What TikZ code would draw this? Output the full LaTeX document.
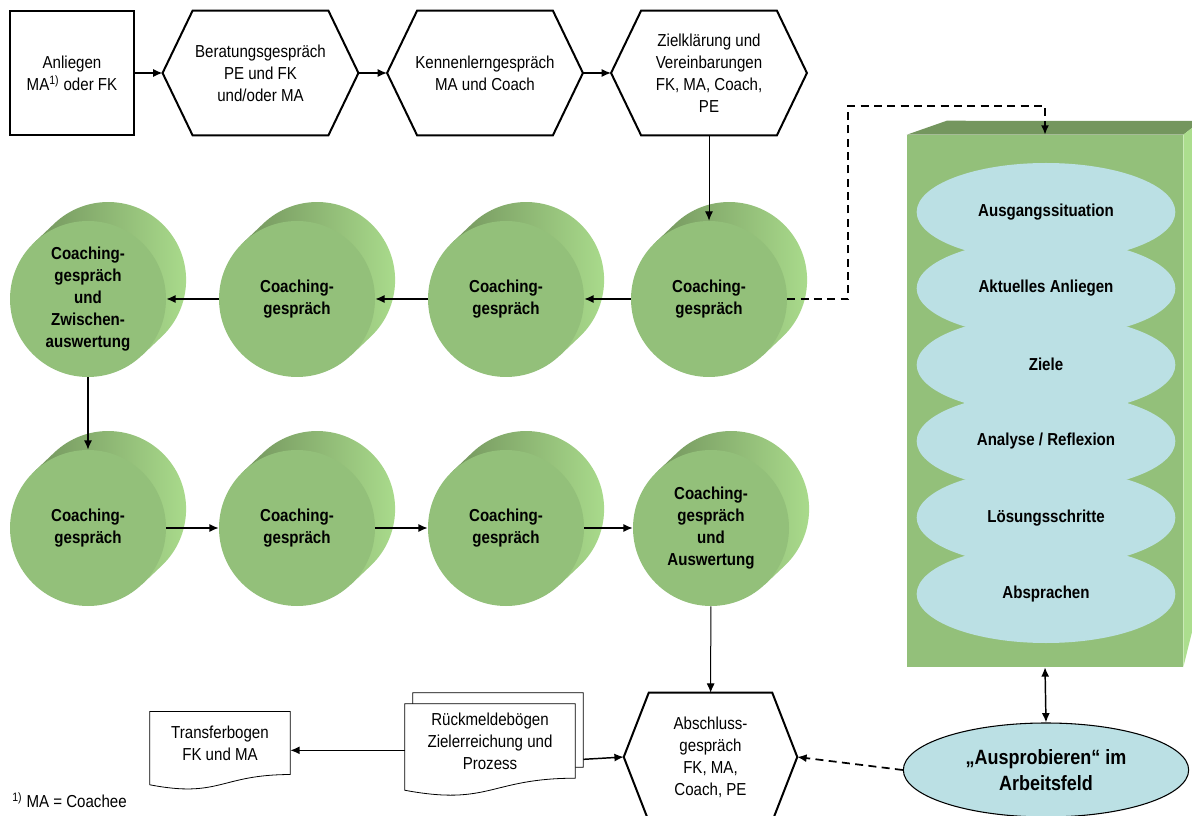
\documentclass[tikz,border=0pt]{standalone}
\usepackage{fontspec}
\setmainfont{Liberation Sans}[FakeStretch=0.87]
\usepackage{tikz}
\usetikzlibrary{arrows.meta,positioning,calc,shapes.geometric,backgrounds}
\definecolor{disk}{RGB}{147,192,122}
\definecolor{diskdark}{RGB}{116,150,94}
\definecolor{disklight}{RGB}{172,222,142}
\definecolor{oval}{RGB}{187,224,228}
\definecolor{ink}{RGB}{0,0,0}

% green coaching disk: shaded back, plain front with text
\newcommand{\coachdisk}[3]{%
  \coordinate (#1c) at (#2);
  \shade[left color=diskdark,right color=disklight] ($(#1c)+(53.8,56.6)$) -- ++(20,-19)
    arc[start angle=46.5,end angle=-133.5,radius=78] -- ++(-20,19) -- cycle;
  \node[disk] (#1) at (#1c) {#3};}
% sheet with wavy lower edge round a text node
\newcommand{\docoutline}[2]{%
  \draw[docline] (#1.north west) -- (#1.north east) -- (#1.south east)
    .. controls (#1.south) and ($(#1.south)+(0,#2)$) .. ($(#1.south west)+(0,{0.43*#2})$) -- cycle;}
% six-sided outline round a text node
\newcommand{\hexoutline}[2]{%
  \draw[hexline] ([xshift=#2]#1.north west) -- ([xshift=-#2]#1.north east) -- (#1.east)
    -- ([xshift=-#2]#1.south east) -- ([xshift=#2]#1.south west) -- (#1.west) -- cycle;}

\begin{document}
\begin{tikzpicture}[x=0.75pt,y=-0.75pt,>={Latex[length=7pt,width=6pt]},font=\fontsize{13}{16.5}\selectfont]
\tikzset{box/.style={draw=ink,line width=1.5pt,align=center,inner sep=2pt},
  hexa/.style={align=center,inner sep=0pt,minimum width=146.5pt,minimum height=93pt},
  hexline/.style={draw=ink,line width=1.5pt,line join=miter},
  disk/.style={circle,fill=disk,minimum size=117pt,inner sep=0pt,align=center,font=\fontsize{13}{16.5}\selectfont\bfseries},
  phase/.style={ellipse,fill=oval,minimum width=194pt,minimum height=73.5pt,inner sep=0pt,font=\fontsize{13}{16.5}\selectfont\bfseries},
  docnode/.style={align=center,inner sep=0pt},
  docline/.style={draw=ink,line width=0.6pt,fill=white},
  arr/.style={->,line width=1.1pt,draw=ink},
  thinarr/.style={arr,line width=0.75pt},
  dasharr/.style={arr,dash pattern=on 6pt off 4pt,line width=1.3pt}}
\useasboundingbox (0,0) rectangle (1192,816);

% top row
\node[box,minimum width=93pt,minimum height=93pt] (anl) at (72,73) {Anliegen\\MA\textsuperscript{1)} oder FK};
\node[hexa] (bera) at (260.5,73) {Beratungsgespräch\\PE und FK\\und/oder MA};
\node[hexa] (kenn) at (485,73) {Kennenlerngespräch\\MA und Coach};
\node[hexa] (ziel) at (709,73) {Zielklärung und\\Vereinbarungen\\FK, MA, Coach,\\PE};
\hexoutline{bera}{22.5pt}
\hexoutline{kenn}{22.5pt}
\hexoutline{ziel}{22.5pt}

% coaching sessions
\coachdisk{c1}{709,299}{Coaching-\\gespräch}
\coachdisk{c2}{506,299}{Coaching-\\gespräch}
\coachdisk{c3}{297,299}{Coaching-\\gespräch}
\coachdisk{c4}{88,299}{Coaching-\\gespräch\\und\\Zwischen-\\auswertung}
\coachdisk{c5}{88,528}{Coaching-\\gespräch}
\coachdisk{c6}{297,528}{Coaching-\\gespräch}
\coachdisk{c7}{506,528}{Coaching-\\gespräch}
\coachdisk{c8}{711,528}{Coaching-\\gespräch\\und\\Auswertung}

% phases of one session
\node[rectangle,fill=disk,minimum width=207pt,minimum height=399pt,inner sep=0pt] (phbox) at (1045,401) {};
\fill[diskdark] (phbox.north west) -- ++(40,-14) -- (1192,121) -- (1192,128) -- (phbox.north east) -- cycle;
\fill[disklight] (phbox.north east) -- (1192,128) -- (1192,632) -- (phbox.south east) -- cycle;
\foreach \t [count=\i] in {Ausgangssituation,Aktuelles Anliegen,Ziele,Analyse / Reflexion,Lösungsschritte,Absprachen}
  \node[phase] (ph\i) at (1046,{212+76.4*(\i-1)}) {\t};
\node[ellipse,draw=ink,line width=0.8pt,fill=oval,minimum width=214pt,minimum height=70.5pt,inner sep=0pt,align=center,font=\fontsize{15.5}{19}\selectfont\bfseries] (try) at (1046,770) {„Ausprobieren“ im\\Arbeitsfeld};

% closing
\node[hexa,minimum width=129.75pt,minimum height=96pt] (absch) at (710.5,757) {Abschluss-\\gespräch\\FK, MA,\\Coach, PE};
\hexoutline{absch}{18.75pt}
\node[docnode,minimum width=127.5pt,minimum height=55.4pt] (rueck) at (490,741) {Rückmeldebögen\\Zielerreichung und\\Prozess};
\node[docnode,minimum width=127.5pt,minimum height=55.4pt] (rueckback) at (498,730) {};
\node[docnode,minimum width=105pt,minimum height=46.9pt] (transfer) at (220,743) {Transferbogen\\FK und MA};
\begin{pgfonlayer}{background}
\docoutline{rueckback}{28}
\docoutline{rueck}{28}
\docoutline{transfer}{23.8}
\end{pgfonlayer}
\node[anchor=west,inner sep=0pt] (note) at (12,800) {\textsuperscript{1)} MA = Coachee};

% connectors
\draw[arr] (anl) -- (bera.west);\draw[arr] (bera.east) -- (kenn.west);\draw[arr] (kenn.east) -- (ziel.west);
\draw[thinarr] (ziel) -- (c1);
\draw[arr] (c1) -- (c2);\draw[arr] (c2) -- (c3);\draw[arr] (c3) -- (c4);
\draw[arr] (c4) -- (c5);
\draw[arr] (c5) -- (c6);\draw[arr] (c6) -- (c7);\draw[arr] (c7) -- (c8);
\draw[thinarr] (c8) -- (absch);
\draw[dasharr] (c1.east) -- ++(61,0) |- ($(phbox.north)+(0,-29)$) -- (phbox.north);
\draw[arr,<->] (phbox.south) -- (try.north);
\draw[dasharr] (try.west) -- (absch.east);
\draw[arr] ([yshift=-22pt]rueckback.east) -- (absch.west);
\draw[arr] ([yshift=-7pt]rueck.west) -- ([yshift=-7pt]rueck.west -| transfer.east);
\end{tikzpicture}
\end{document}
